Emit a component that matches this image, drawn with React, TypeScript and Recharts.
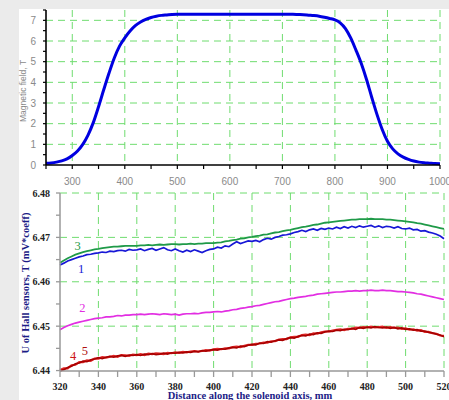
import { LineChart, Line, XAxis, YAxis, CartesianGrid, ReferenceDot } from "recharts";

// ---- top chart: magnetic field along the axis ----
const fieldDist = [
  250, 260, 270, 280, 290, 300, 310, 320, 330, 340, 350, 360, 370, 380, 390, 400, 410, 420, 430, 440,
  450, 460, 470, 480, 490, 500, 510, 520, 530, 540, 550, 560, 570, 580, 590, 600, 610, 620, 630, 640,
  650, 660, 670, 680, 690, 700, 710, 720, 730, 740, 750, 760, 770, 780, 790, 800, 810, 820, 830, 840,
  850, 860, 870, 880, 890, 900, 910, 920, 930, 940, 950, 960, 970, 980, 990, 1000,
];
const fieldValues = [
  0.08, 0.1, 0.14, 0.2, 0.3, 0.46, 0.68, 1.0, 1.45, 2.05, 2.82, 3.65, 4.45, 5.18, 5.75, 6.15, 6.48, 6.74, 6.92, 7.05,
  7.14, 7.2, 7.24, 7.26, 7.28, 7.29, 7.29, 7.29, 7.29, 7.29, 7.29, 7.29, 7.29, 7.29, 7.29, 7.29, 7.29, 7.29, 7.29, 7.29,
  7.29, 7.29, 7.29, 7.29, 7.29, 7.29, 7.29, 7.29, 7.28, 7.27, 7.25, 7.23, 7.2, 7.15, 7.09, 7.02, 6.88, 6.6, 6.15, 5.56,
  4.92, 4.15, 3.28, 2.45, 1.72, 1.15, 0.78, 0.54, 0.38, 0.27, 0.19, 0.14, 0.11, 0.09, 0.07, 0.06,
];
const fieldXTicks = [250, 300, 350, 400, 450, 500, 550, 600, 650, 700, 750, 800, 850, 900, 950, 1000];
const fieldYTicks = [0, 0.5, 1, 1.5, 2, 2.5, 3, 3.5, 4, 4.5, 5, 5.5, 6, 6.5, 7, 7.5];
const fieldGridX = [300, 400, 500, 600, 700, 800, 900, 1000];
const fieldGridY = [1, 2, 3, 4, 5, 6, 7];

// ---- bottom chart: hall sensors ----
const hallDist = [
  320, 322, 324, 326, 328, 330, 332, 334, 336, 338,
  340, 342, 344, 346, 348, 350, 352, 354, 356, 358,
  360, 362, 364, 366, 368, 370, 372, 374, 376, 378,
  380, 382, 384, 386, 388, 390, 392, 394, 396, 398,
  400, 402, 404, 406, 408, 410, 412, 414, 416, 418,
  420, 422, 424, 426, 428, 430, 432, 434, 436, 438,
  440, 442, 444, 446, 448, 450, 452, 454, 456, 458,
  460, 462, 464, 466, 468, 470, 472, 474, 476, 478,
  480, 482, 484, 486, 488, 490, 492, 494, 496, 498,
  500, 502, 504, 506, 508, 510, 512, 514, 516, 518,
  520,
];
const sensor1 = [
  6.4638, 6.4642, 6.4647, 6.465, 6.4653, 6.4656, 6.4658, 6.4661, 6.4662, 6.4664,
  6.4665, 6.4667, 6.4666, 6.4669, 6.4668, 6.467, 6.4671, 6.4669, 6.4673, 6.4671,
  6.4672, 6.4674, 6.467, 6.4673, 6.4675, 6.4671, 6.4674, 6.4677, 6.4672, 6.467,
  6.4674, 6.467, 6.4667, 6.4671, 6.4668, 6.4672, 6.4669, 6.4666, 6.467, 6.4673,
  6.4674, 6.4678, 6.4676, 6.4681, 6.4679, 6.4685, 6.469, 6.4686, 6.4689, 6.4692,
  6.4691, 6.4693, 6.469, 6.4695, 6.4698, 6.4696, 6.47, 6.4702, 6.4705, 6.4706,
  6.4708, 6.4711, 6.4713, 6.4716, 6.4713, 6.4717, 6.4719, 6.4716, 6.472, 6.4718,
  6.4721, 6.4719, 6.4723, 6.472, 6.4724, 6.4721, 6.4725, 6.4722, 6.4726, 6.4723,
  6.4725, 6.4727, 6.4723, 6.4726, 6.4722, 6.4725, 6.4724, 6.4721, 6.4724, 6.472,
  6.4719, 6.4721, 6.4717, 6.4718, 6.4714, 6.4715, 6.4712, 6.471, 6.4707, 6.4703,
  6.4697,
];
const sensor2 = [
  6.4492, 6.4497, 6.4501, 6.4504, 6.4507, 6.4509, 6.4511, 6.4513, 6.4515, 6.4517,
  6.4518, 6.4519, 6.4521, 6.4521, 6.4522, 6.4524, 6.4523, 6.4525, 6.4525, 6.4526,
  6.4526, 6.4527, 6.4526, 6.4527, 6.4528, 6.4527, 6.4526, 6.4528, 6.4527, 6.4526,
  6.4527, 6.4525, 6.4527, 6.4528, 6.4528, 6.4529, 6.4528, 6.453, 6.4531, 6.4531,
  6.4532, 6.4533, 6.4532, 6.4534, 6.4535, 6.4537, 6.4538, 6.454, 6.4541, 6.4543,
  6.4544, 6.4546, 6.4547, 6.4549, 6.4551, 6.4553, 6.4555, 6.4556, 6.4558, 6.456,
  6.4562, 6.4563, 6.4565, 6.4566, 6.4567, 6.4569, 6.457, 6.4572, 6.4573, 6.4574,
  6.4575, 6.4576, 6.4577, 6.4577, 6.4578, 6.4579, 6.4579, 6.458, 6.4579, 6.458,
  6.458, 6.4581, 6.458, 6.458, 6.4581, 6.458, 6.458, 6.4579, 6.4578, 6.4578,
  6.4577, 6.4576, 6.4575, 6.4573, 6.4572, 6.457, 6.4568, 6.4566, 6.4564, 6.4562,
  6.456,
];
const sensor3 = [
  6.4643, 6.4648, 6.4653, 6.4657, 6.4661, 6.4664, 6.4667, 6.4669, 6.4671, 6.4673,
  6.4674, 6.4676, 6.4677, 6.4678, 6.4679, 6.4679, 6.468, 6.4681, 6.4681, 6.4681,
  6.4681, 6.4682, 6.4682, 6.4683, 6.4682, 6.4683, 6.4684, 6.4683, 6.4684, 6.4685,
  6.4685, 6.4684, 6.4685, 6.4685, 6.4686, 6.4685, 6.4686, 6.4686, 6.4687, 6.4687,
  6.4687, 6.4688, 6.4689, 6.4691, 6.4692, 6.4694, 6.4695, 6.4697, 6.4698, 6.47,
  6.4701, 6.4703, 6.4704, 6.4706, 6.4707, 6.4709, 6.4711, 6.4712, 6.4714, 6.4716,
  6.4717, 6.4719, 6.4721, 6.4723, 6.4724, 6.4726, 6.4728, 6.4729, 6.4731, 6.4733,
  6.4734, 6.4735, 6.4736, 6.4737, 6.4738, 6.4739, 6.474, 6.474, 6.4741, 6.4741,
  6.4741, 6.4742, 6.4741, 6.4741, 6.4741, 6.474, 6.474, 6.4739, 6.4738, 6.4737,
  6.4736, 6.4735, 6.4734, 6.4732, 6.4731, 6.4729, 6.4727, 6.4725, 6.4723, 6.4721,
  6.4719,
];
const sensor4 = [
  6.4399, 6.4402, 6.4407, 6.441, 6.4415, 6.4417, 6.4421, 6.442, 6.4424, 6.4426,
  6.4429, 6.4427, 6.443, 6.4432, 6.443, 6.4433, 6.4434, 6.4432, 6.4435, 6.4434,
  6.4436, 6.4434, 6.4437, 6.4436, 6.4438, 6.4436, 6.4437, 6.4439, 6.4437, 6.444,
  6.4439, 6.4441, 6.444, 6.4442, 6.4441, 6.4443, 6.4442, 6.4445, 6.4444, 6.4446,
  6.4447, 6.4446, 6.4449, 6.4448, 6.4451, 6.4452, 6.4451, 6.4455, 6.4454, 6.4457,
  6.4459, 6.4458, 6.4462, 6.4461, 6.4465, 6.4464, 6.4467, 6.4469, 6.4468, 6.4472,
  6.4474, 6.4473, 6.4477, 6.4479, 6.4478, 6.4482, 6.4481, 6.4485, 6.4484, 6.4487,
  6.4489, 6.4488, 6.4491, 6.449, 6.4493, 6.4492, 6.4495, 6.4493, 6.4497, 6.4495,
  6.4498, 6.4496, 6.4499, 6.4497, 6.4496, 6.4498, 6.4495, 6.4497, 6.4494, 6.4496,
  6.4493, 6.4494, 6.4491, 6.4492, 6.4489, 6.4489, 6.4486, 6.4485, 6.4482, 6.448,
  6.4476,
];
const sensor5 = [
  6.4401, 6.4405, 6.4405, 6.4412, 6.4413, 6.4419, 6.4419, 6.4423, 6.4422, 6.4427,
  6.4427, 6.443, 6.4429, 6.4431, 6.4433, 6.4431, 6.4435, 6.4434, 6.4433, 6.4436,
  6.4435, 6.4437, 6.4435, 6.4438, 6.4437, 6.4439, 6.4438, 6.4437, 6.444, 6.4439,
  6.4441, 6.444, 6.4442, 6.4441, 6.4443, 6.4444, 6.4443, 6.4444, 6.4446, 6.4445,
  6.4448, 6.4449, 6.4448, 6.445, 6.445, 6.4453, 6.4454, 6.4453, 6.4456, 6.4458,
  6.4458, 6.446, 6.4461, 6.4463, 6.4463, 6.4466, 6.4466, 6.447, 6.4471, 6.4471,
  6.4475, 6.4476, 6.4476, 6.448, 6.4481, 6.448, 6.4484, 6.4483, 6.4486, 6.4488,
  6.4488, 6.449, 6.4492, 6.4493, 6.4491, 6.4494, 6.4494, 6.4497, 6.4496, 6.4498,
  6.4497, 6.4499, 6.4497, 6.4498, 6.4499, 6.4496, 6.4498, 6.4496, 6.4497, 6.4494,
  6.4495, 6.4492, 6.4493, 6.449, 6.4491, 6.4487, 6.4487, 6.4484, 6.4483, 6.4479,
  6.4478,
];
const hallXTicks = [
  320, 330, 340, 350, 360, 370, 380, 390, 400, 410, 420, 430, 440, 450, 460, 470, 480, 490, 500, 510, 520,
];
const hallYTicks = [6.44, 6.445, 6.45, 6.455, 6.46, 6.465, 6.47, 6.475, 6.48];
const hallGridX = [340, 360, 380, 400, 420, 440, 460, 480, 500, 520];
const hallGridY = [6.45, 6.46, 6.47, 6.48];

// where the curve numbers sit (data coords)
const curveTags = [
  { name: "3", x: 329.2, y: 6.4681 },
  { name: "1", x: 331, y: 6.4629 },
  { name: "2", x: 331.6, y: 6.4542 },
  { name: "4", x: 326.9, y: 6.4432 },
  { name: "5", x: 333, y: 6.4445 },
];

const COLORS: Record<string, string> = {
  "1": "#1717d6",
  "2": "#e22ee2",
  "3": "#1f9a48",
  "4": "#cc1414",
  "5": "#b01010",
};

const fieldData = fieldDist.map((x, i) => ({ x, field: fieldValues[i] }));
const hallData = hallDist.map((x, i) => ({
  x,
  s1: sensor1[i],
  s2: sensor2[i],
  s3: sensor3[i],
  s4: sensor4[i],
  s5: sensor5[i],
}));

const SANS = "'Liberation Sans', Arial, sans-serif";
const SERIF = "'Liberation Serif', 'Times New Roman', serif";
const GRID = "#6fdc6f";

function FieldXTick(p: any) {
  const v = p.payload.value;
  return (
    <g>
      <line x1={p.x} y1={p.y} x2={p.x} y2={p.y + 4} stroke="#000" strokeWidth={1.2} />
      {v % 100 === 0 && (
        <text x={p.x} y={p.y + 20} textAnchor="middle" fontSize={10} fill="#8a8a8a" fontFamily={SANS}>
          {v}
        </text>
      )}
    </g>
  );
}

function FieldYTick(p: any) {
  const v = p.payload.value;
  return (
    <g>
      <line x1={p.x - 3} y1={p.y} x2={p.x} y2={p.y} stroke="#000" strokeWidth={1.2} />
      {Number.isInteger(v) && v <= 7 && (
        <text x={p.x - 10} y={p.y + 3.5} textAnchor="end" fontSize={10} fill="#8a8a8a" fontFamily={SANS}>
          {v}
        </text>
      )}
    </g>
  );
}

function HallXTick(p: any) {
  const v = p.payload.value;
  return (
    <g>
      <line x1={p.x} y1={p.y} x2={p.x} y2={p.y + 6} stroke="#999" strokeWidth={1.3} />
      {v % 20 === 0 && (
        <text x={p.x} y={p.y + 18.5} textAnchor="middle" fontSize={10} fontWeight="bold" fill="#222" fontFamily={SERIF}>
          {v}
        </text>
      )}
    </g>
  );
}

function HallYTick(p: any) {
  const v = p.payload.value;
  const major = Math.abs(v * 100 - Math.round(v * 100)) < 1e-6;
  return (
    <g>
      <line x1={p.x - 4} y1={p.y} x2={p.x} y2={p.y} stroke="#999" strokeWidth={1.3} />
      {major && (
        <text x={p.x - 10} y={p.y + 3.5} textAnchor="end" fontSize={10} fontWeight="bold" fill="#222" fontFamily={SERIF}>
          {v.toFixed(2)}
        </text>
      )}
    </g>
  );
}

export default function App() {
  return (
    <div style={{ position: "absolute", left: 0, top: 0, width: 449, height: 400, background: "#ebebeb", overflow: "hidden" }}>
      <div style={{ position: "absolute", left: 19, top: 9, width: 430, height: 391, background: "#fff" }} />

      <div style={{ position: "absolute", left: 0, top: 0 }}>
        <LineChart width={449} height={190} data={fieldData} margin={{ top: 10, right: 9, bottom: 0, left: 0 }}>
          <CartesianGrid
            stroke={GRID}
            strokeDasharray="7 5"
            horizontalValues={fieldGridY}
            verticalValues={fieldGridX}
          />
          <XAxis
            type="number"
            dataKey="x"
            domain={[250, 1000]}
            ticks={fieldXTicks}
            interval={0}
            height={25}
            tickSize={0}
            tickMargin={0}
            tick={FieldXTick}
            axisLine={{ stroke: "#000", strokeWidth: 1.6 }}
          />
          <YAxis
            type="number"
            domain={[0, 7.5]}
            ticks={fieldYTicks}
            interval={0}
            width={46}
            tickSize={0}
            tickMargin={0}
            tick={FieldYTick}
            axisLine={{ stroke: "#000", strokeWidth: 1.6 }}
          />
          <Line type="monotone" dataKey="field" stroke="#0000e0" strokeWidth={3} dot={false} isAnimationActive={false} />
        </LineChart>
      </div>

      <div style={{ position: "absolute", left: 0, top: 180 }}>
        <LineChart width={449} height={220} data={hallData} margin={{ top: 13, right: 5, bottom: 0, left: 0 }}>
          <CartesianGrid
            stroke={GRID}
            strokeDasharray="7 5"
            horizontalValues={hallGridY}
            verticalValues={hallGridX}
          />
          <XAxis
            type="number"
            dataKey="x"
            domain={[320, 520]}
            ticks={hallXTicks}
            interval={0}
            height={29}
            tickSize={0}
            tickMargin={0}
            tick={HallXTick}
            axisLine={{ stroke: "#999", strokeWidth: 1.5 }}
          />
          <YAxis
            type="number"
            domain={[6.44, 6.48]}
            ticks={hallYTicks}
            interval={0}
            width={60}
            tickSize={0}
            tickMargin={0}
            tick={HallYTick}
            axisLine={{ stroke: "#999", strokeWidth: 1.5 }}
          />
          <Line type="linear" dataKey="s3" stroke={COLORS["3"]} strokeWidth={1.8} dot={false} isAnimationActive={false} />
          <Line type="linear" dataKey="s1" stroke={COLORS["1"]} strokeWidth={1.7} dot={false} isAnimationActive={false} />
          <Line type="linear" dataKey="s2" stroke={COLORS["2"]} strokeWidth={1.7} dot={false} isAnimationActive={false} />
          <Line type="linear" dataKey="s5" stroke="#e02828" strokeWidth={2.2} dot={false} isAnimationActive={false} />
          <Line type="linear" dataKey="s4" stroke="#a80000" strokeWidth={1.7} dot={false} isAnimationActive={false} />
          {curveTags.map((t) => (
            <ReferenceDot
              key={t.name}
              x={t.x}
              y={t.y}
              r={0}
              shape={(p: any) => (
                <text x={p.cx} y={p.cy + 4} textAnchor="middle" fontSize={12.5} fill={COLORS[t.name]} fontFamily={SERIF}>
                  {t.name}
                </text>
              )}
            />
          ))}
        </LineChart>
      </div>

      <svg width={449} height={400} style={{ position: "absolute", left: 0, top: 0, pointerEvents: "none" }}>
        <text x={23} y={91} transform="rotate(-90 23 91)" textAnchor="middle" dominantBaseline="central" fontSize={8.5} fill="#8a8a8a" fontFamily={SANS}>
          Magnetic field, T
        </text>
        <text x={25} y={283} transform="rotate(-90 25 283)" textAnchor="middle" dominantBaseline="central" fontSize={10.5} fontWeight="bold" fill="#1c1c86" fontFamily={SERIF}>
          U of Hall sensors, T (mV*coeff)
        </text>
        <text x={250} y={399} textAnchor="middle" fontSize={10.5} fontWeight="bold" fill="#1c1c86" fontFamily={SERIF}>
          Distance along the solenoid axis, mm
        </text>
      </svg>
    </div>
  );
}
